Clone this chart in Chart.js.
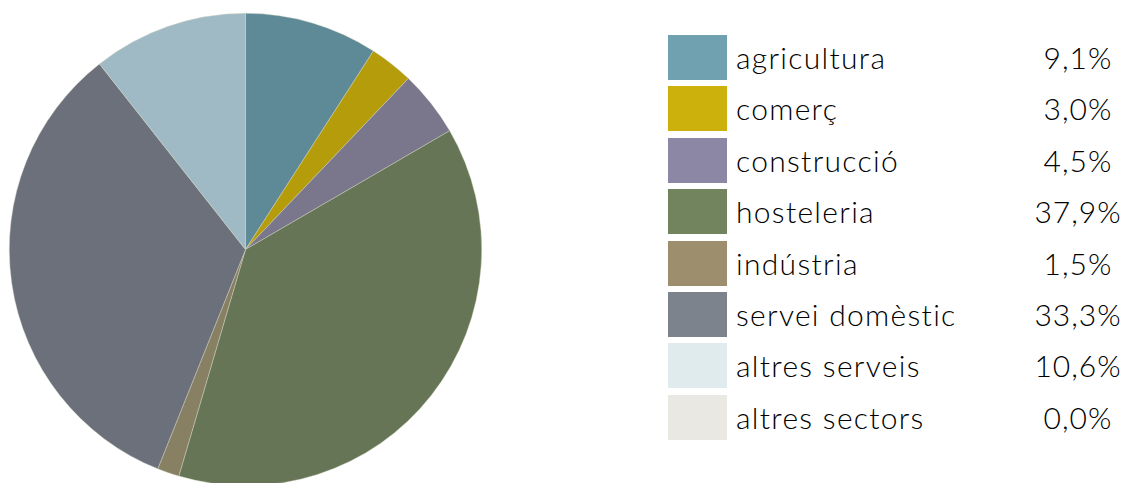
<!DOCTYPE html>
<html>
<head>
<meta charset="utf-8">
<script src="https://cdn.jsdelivr.net/npm/chart.js@4"></script>
<style>
  html, body { margin: 0; padding: 0; background: #fff; width: 1136px; height: 483px; overflow: hidden; }
  #wrap { position: absolute; left: 0; top: 0; width: 491px; height: 500px; }
  #legend { position: absolute; left: 668px; top: 35px; width: 460px; font-family: "Century Gothic", "Lato", sans-serif; font-weight: 300; color: #000; font-variant-ligatures: none; font-feature-settings: "liga" 0; }
  .row { position: relative; height: 45px; margin-bottom: 6.4px; }
  .sw { position: absolute; left: 0; top: 0; width: 59px; height: 45px; }
  .lab { position: absolute; left: 68px; top: 0; line-height: 45px; font-size: 30px; letter-spacing: 1.3px; white-space: nowrap; }
  .val { position: absolute; left: 340px; width: 140px; text-align: center; top: 0; line-height: 45px; font-size: 30px; letter-spacing: 1px; white-space: nowrap; }
</style>
</head>
<body>
<div id="wrap"><canvas id="c" width="491" height="500"></canvas></div>
<div id="legend"></div>
<script>
const categories = ["agricultura", "comerç", "construcció", "hosteleria", "indústria", "servei domèstic", "altres serveis", "altres sectors"];
const shares = [9.1, 3.0, 4.5, 37.9, 1.5, 33.3, 10.6, 0.0];
const shareLabels = ["9,1%", "3,0%", "4,5%", "37,9%", "1,5%", "33,3%", "10,6%", "0,0%"];
const sliceColors = ["#5e8a97", "#b59c0a", "#7a778d", "#667556", "#878063", "#6c707a", "#a0bac5", "#c9c8c0"];
const legendColors = ["#6fa1b1", "#ccb00c", "#8c87a5", "#72845e", "#9d8e6e", "#7d838d", "#dfebed", "#e9e8e3"];

new Chart(document.getElementById("c"), {
  type: "pie",
  data: {
    labels: categories,
    datasets: [{
      data: shares,
      backgroundColor: sliceColors,
      borderColor: "rgba(215,215,195,0.7)",
      borderWidth: 0.6
    }]
  },
  options: {
    responsive: false,
    animation: false,
    layout: { padding: { left: 9, right: 9, top: 13, bottom: 14 } },
    plugins: { legend: { display: false }, tooltip: { enabled: false } }
  }
});

const lg = document.getElementById("legend");
categories.forEach((cat, i) => {
  const row = document.createElement("div");
  row.className = "row";
  const sw = document.createElement("div");
  sw.className = "sw";
  sw.style.background = legendColors[i];
  const lab = document.createElement("div");
  lab.className = "lab";
  lab.textContent = cat;
  const val = document.createElement("div");
  val.className = "val";
  val.textContent = shareLabels[i];
  row.appendChild(sw); row.appendChild(lab); row.appendChild(val);
  lg.appendChild(row);
});
</script>
</body>
</html>
